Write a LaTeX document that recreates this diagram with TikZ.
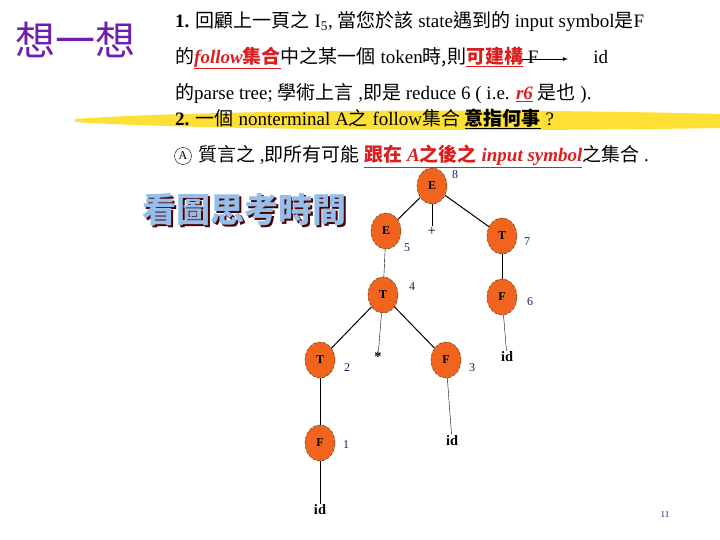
\documentclass[tikz,border=0pt]{standalone}
\usepackage{fontspec}
\setmainfont{Liberation Serif}
\newfontfamily\cjk{Noto Sans CJK TC}
\newcommand{\C}[1]{{\cjk #1}}
\usetikzlibrary{shapes.geometric}
\definecolor{redu}{RGB}{220,30,30}
\definecolor{orng}{RGB}{240,100,30}
\definecolor{purp}{RGB}{110,30,170}
\definecolor{ltblue}{RGB}{150,190,235}
\definecolor{numc}{RGB}{30,30,100}
\begin{document}
\begin{tikzpicture}[x=1pt,y=-1pt,
  nd/.style={ellipse,draw=black!80,densely dashed,fill=orng,minimum width=30pt,minimum height=36pt,inner sep=0pt,font=\bfseries\large},
  lf/.style={font=\bfseries\Large,inner sep=1pt},
  num/.style={font=\large,text=numc,inner sep=0pt},
  ln/.style={font=\fontsize{19}{21}\selectfont,anchor=west,inner sep=0pt},
  edge/.style={line width=1pt}]
\useasboundingbox (0,0) rectangle (720,540);
\fill[white] (0,0) rectangle (720,540);
% yellow band
\fill[yellow!75!orange,opacity=0.8] (75,119) .. controls (200,110) and (500,108) .. (720,114) -- (720,128) .. controls (500,132) and (200,130) .. (75,122) -- cycle;
\node[font=\fontsize{40}{42}\selectfont,text=purp] (title) at (75,40) {\C{想一想}};
\node[ln] (l1) at (175,22) {\textbf{1.} \C{回顧上一頁之} I\textsubscript{5}, \C{當您於該} state\C{遇到的} input symbol\C{是}F};
\node[ln] (l2) at (175,58) {\C{的}\textcolor{redu}{\underline{\textit{\textbf{follow}}\C{\textbf{集合}}}}\C{中之某一個} token\C{時,則}\textcolor{redu}{\underline{\C{\textbf{可建構}}}} F\hspace{55pt}id};
\node[ln] (l3) at (175,94) {\C{的}parse tree; \C{學術上言} ,\C{即是} reduce 6 ( i.e. \textcolor{redu}{\underline{\textit{\textbf{r6}}}} \C{是也} ).};
\node[ln] (l4) at (175,119) {\textbf{2.} \C{一個} nonterminal A\C{之} follow\C{集合} \underline{\C{\textbf{意指何事}}} ?};
\node[ln] (l5) at (198,156) {\C{質言之} ,\C{即所有可能} \textcolor{redu}{\underline{\C{\textbf{跟在}} \textbf{\textit{A}}\C{\textbf{之後之}} \textbf{\textit{input symbol}}}}\C{之集合} .};
\node[circle,draw,inner sep=0pt,minimum size=17pt,font=\large] (ca) at (183,156) {A};
\coordinate (a1) at (522,59); \coordinate (a2) at (568,59);
\draw[-latex,thick] (a1) -- (a2);
\node[font=\fontsize{34}{36}\selectfont\bfseries,text=black!70!red] (tts) at (246,212) {\C{看圖思考時間}};
\node[font=\fontsize{34}{36}\selectfont\bfseries,text=ltblue] (tt) at (tts) [xshift=-2pt,yshift=2pt] {\C{看圖思考時間}};
% tree
\node[nd] (e8) at (432,186) {E};
\node[nd] (e5) at (386,231) {E};
\node[lf,font=\Large] (plus) at (432,231) {+};
\node[nd] (t7) at (502,236) {T};
\node[nd] (t4) at (383,295) {T};
\node[nd] (f6) at (502,297) {F};
\node[nd] (t2) at (320,360) {T};
\node[lf] (star) at (378,357) {*};
\node[nd] (f3) at (446,360) {F};
\node[lf] (id6) at (507,357) {id};
\node[nd] (f1) at (320,443) {F};
\node[lf] (id3) at (452,441) {id};
\node[lf] (id1) at (320,510) {id};
\draw[edge] (e8) -- (e5); \draw (e8) -- (plus); \draw[edge] (e8) -- (t7);
\draw (e5) -- (t4); \draw (t7) -- (f6); \draw (f6) -- (id6);
\draw[edge] (t4) -- (t2); \draw (t4) -- (star); \draw[edge] (t4) -- (f3);
\draw (t2) -- (f1); \draw (f1) -- (id1); \draw (f3) -- (id3);
\node[num] at (455,175) {8};
\node[num] at (407,248) {5};
\node[num] at (527,242) {7};
\node[num] at (412,287) {4};
\node[num] at (530,302) {6};
\node[num] at (347,368) {2};
\node[num] at (472,368) {3};
\node[num] at (346,445) {1};
\node[font=\small,text=numc] (pg) at (665,515) {11};
\end{tikzpicture}
\end{document}
